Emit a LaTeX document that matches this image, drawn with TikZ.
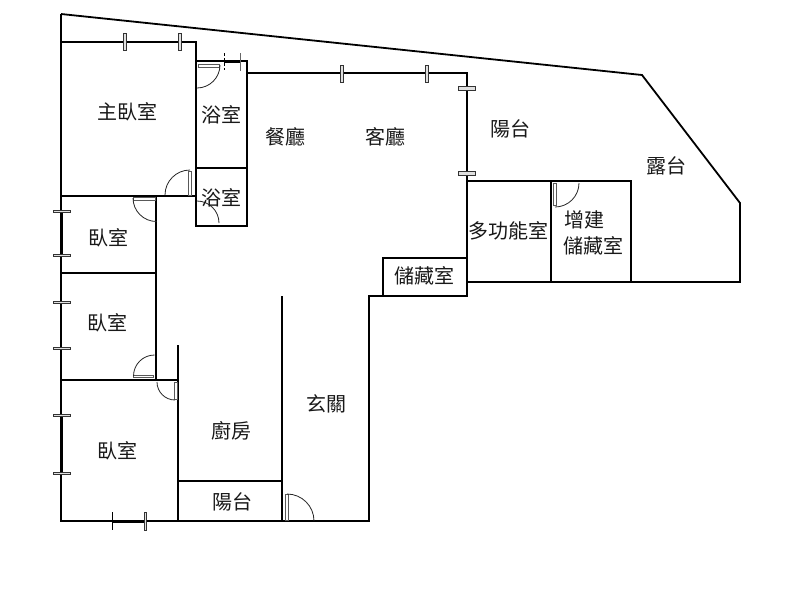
\documentclass[tikz,border=0pt]{standalone}
\usepackage{fontspec}
\newfontfamily\cjk{Noto Sans CJK TC}
\tikzset{
  wall/.style={line width=2.3pt,black,line cap=butt,line join=miter},
  thinwall/.style={line width=1.8pt,black},
  doorarc/.style={line width=0.8pt,black!85},
  leaf/.style={draw=black!65,fill=white,line width=0.9pt},
  win/.style={draw=black!80,fill=black!12,line width=1pt},
  room/.style={font=\cjk\fontsize{20}{24}\selectfont,inner sep=0pt,align=left,text=black!90}
}
\begin{document}
\begin{tikzpicture}[x=1pt,y=-1pt]
\useasboundingbox (0,0) rectangle (800,600);
\fill[white] (0,0) rectangle (800,600);
% outer and terrace
\draw[thinwall] (61,14) -- (642,75) -- (740,203) -- (740,282) -- (467,282);
\draw[wall] (61,14) -- (61,521) -- (369,521) -- (369,296) -- (467,296) -- (467,73) -- (247,73);
% master bedroom and baths
\draw[wall] (61,42) -- (196,42) -- (196,226) -- (247,226) -- (247,61) -- (196,61);
\draw[wall] (196,168) -- (247,168);
\draw[wall] (61,196) -- (196,196);
% bedrooms
\draw[wall] (156,196) -- (156,380);
\draw[wall] (60,273) -- (156,273);
\draw[wall] (61,380) -- (178,380);
\draw[wall] (178,345) -- (178,521);
% kitchen, entrance
\draw[wall] (282,296) -- (282,521);
\draw[wall] (178,481) -- (282,481);
% storage and extensions
\draw[wall] (383,296) -- (383,258) -- (467,258);
\draw[wall] (467,181) -- (631,181) -- (631,282);
\draw[wall] (551,181) -- (551,282);
% thicker wall pieces
\draw[line width=3.2pt] (61.5,211) -- (61.5,255);
\draw[line width=3.2pt] (61.5,415) -- (61.5,473);
\draw[line width=3pt] (112,521) -- (145,521);
\draw[line width=3pt] (224,61) -- (240,61);
% doors
\draw[leaf] (188.5,171) rectangle (191,195);
\draw[doorarc] (190,170) arc[start angle=270,end angle=180,radius=25];
\draw[leaf] (133,197.5) rectangle (155,200.5);
\draw[doorarc] (133,198) arc[start angle=180,end angle=90,radius=23.5];
\draw[leaf] (198,64) rectangle (219,67);
\draw[doorarc] (220,65) arc[start angle=0,end angle=90,radius=23];
\draw[doorarc] (197,201) arc[start angle=270,end angle=360,radius=22];
\draw[leaf] (133.5,375) rectangle (153.5,377.5);
\draw[doorarc] (133.5,376) arc[start angle=180,end angle=270,radius=21];
\draw[leaf] (174.5,382) rectangle (177,399);
\draw[doorarc] (157,382) arc[start angle=180,end angle=90,radius=18];
\draw[leaf] (285,494) rectangle (288,520);
\draw[doorarc] (287,494) arc[start angle=270,end angle=360,radius=27];
\draw[leaf] (553,183) rectangle (556,205);
\draw[doorarc] (579,183) arc[start angle=0,end angle=90,radius=24];
% windows
\foreach \x in {125,180,342,427}{\draw[win] (\x-1.5,\ifnum\x<200 33\else 65\fi) rectangle (\x+1.5,\ifnum\x<200 50\else 82\fi);}
\foreach \y in {88,173.5}{\draw[win] (458,\y-2) rectangle (475,\y+2);}
\foreach \y in {211,255,302,348,415,473}{\draw[win] (53,\y-1) rectangle (70,\y+1);}
\draw[line width=1pt] (112,512) -- (112,530);
\draw[win] (144,512) rectangle (146,530);
\draw[line width=0.8pt,dash pattern=on 3pt off 2pt] (224,53) -- (224,70);
\draw[line width=0.9pt,black!60] (240,53) -- (240,71);
% labels
\node[room] (n1) at (127,112) {主臥室};
\node[room] (n2) at (221,115) {浴室};
\node[room] (n3) at (285,137) {餐廳};
\node[room] (n4) at (385,137) {客廳};
\node[room] (n5) at (510,129) {陽台};
\node[room] (n6) at (666,166) {露台};
\node[room] (n7) at (221,198) {浴室};
\node[room] (n8) at (108,238) {臥室};
\node[room] (n9) at (508,231) {多功能室};
\node[room,anchor=west] (n10) at (564,220) {增建};
\node[room] (n11) at (593,246) {儲藏室};
\node[room] (n12) at (424,276) {儲藏室};
\node[room] (n13) at (107,323) {臥室};
\node[room] (n14) at (117,451) {臥室};
\node[room] (n15) at (231,431) {廚房};
\node[room] (n16) at (326,404) {玄關};
\node[room] (n17) at (232,502) {陽台};
\end{tikzpicture}
\end{document}
